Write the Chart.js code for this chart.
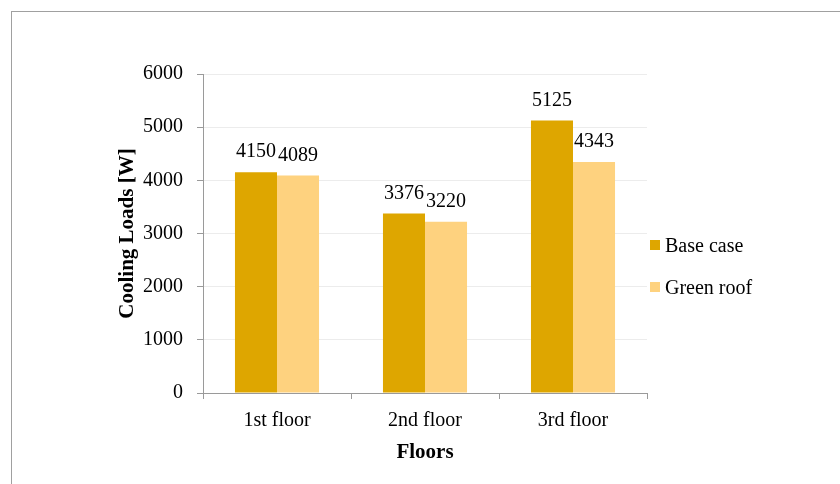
<!DOCTYPE html>
<html>
<head>
<meta charset="utf-8">
<script src="https://cdn.jsdelivr.net/npm/chart.js@4/dist/chart.umd.min.js"></script>
<style>
  body { margin: 0; background: #fff; }
  .wrap { position: relative; width: 840px; height: 484px; overflow: hidden; }
  .frame { position: absolute; left: 11px; top: 11px; width: 900px; height: 600px;
           border-top: 1px solid #a0a0a0; border-left: 1px solid #a0a0a0; }
  canvas { position: absolute; left: 0; top: 0; }
</style>
</head>
<body>
<div class="wrap">
  <div class="frame"></div>
  <canvas id="loadsChart" width="840" height="484"></canvas>
</div>
<script>
const floors = ['1st floor', '2nd floor', '3rd floor'];
const baseCase = [4150, 3376, 5125];
const greenRoof = [4089, 3220, 4343];
const yTicks = [0, 1000, 2000, 3000, 4000, 5000, 6000];

const serif = "'Liberation Serif', 'Times New Roman', serif";

// value labels above every bar
const barValues = {
  id: 'barValues',
  afterDatasetsDraw(chart) {
    const ctx = chart.ctx;
    ctx.save();
    ctx.font = '20px ' + serif;
    ctx.fillStyle = '#000';
    ctx.textAlign = 'center';
    ctx.textBaseline = 'alphabetic';
    chart.data.datasets.forEach((ds, i) => {
      chart.getDatasetMeta(i).data.forEach((bar, j) => {
        ctx.fillText(String(ds.data[j]), bar.x, bar.y - 15);
      });
    });
    ctx.restore();
  }
};

// legend on the right, square swatches
const sideLegend = {
  id: 'sideLegend',
  afterDraw(chart) {
    const ctx = chart.ctx;
    const area = chart.chartArea;
    ctx.save();
    ctx.font = '20px ' + serif;
    ctx.textBaseline = 'middle';
    ctx.textAlign = 'left';
    chart.data.datasets.forEach((ds, i) => {
      const y = area.top + 172 + i * 42;
      ctx.fillStyle = ds.backgroundColor;
      ctx.fillRect(area.right + 3, y - 6, 10, 10);
      ctx.fillStyle = '#000';
      ctx.fillText(ds.label, area.right + 18, y + 1);
    });
    ctx.restore();
  }
};

new Chart('loadsChart', {
  type: 'bar',
  data: {
    labels: floors,
    datasets: [
      {
        label: 'Base case',
        data: baseCase,
        backgroundColor: '#DEA600',
        categoryPercentage: 0.568,
        barPercentage: 1.0,
      },
      {
        label: 'Green roof',
        data: greenRoof,
        backgroundColor: '#FED27F',
        categoryPercentage: 0.568,
        barPercentage: 1.0,
      },
    ],
  },
  options: {
    responsive: false,
    devicePixelRatio: 1,
    animation: false,
    layout: { padding: { top: 74, right: 193, bottom: 0, left: 0 } },
    plugins: {
      legend: { display: false },
      tooltip: { enabled: false },
    },
    scales: {
      x: {
        afterFit: (scale) => { scale.height = 91; },
        grid: { drawOnChartArea: false, drawTicks: true, tickLength: 6, tickColor: '#9a9a9a' },
        border: { display: true, color: '#9a9a9a' },
        ticks: { color: '#000', padding: 10, font: { family: serif, size: 20 } },
        title: {
          display: true,
          text: 'Floors',
          color: '#000',
          font: { family: serif, size: 21, weight: 'bold' },
          padding: { top: 0, bottom: 19 },
        },
      },
      y: {
        min: 0,
        max: 6000,
        afterFit: (scale) => { scale.width = 203; },
        afterBuildTicks: (scale) => { scale.ticks = yTicks.map((v) => ({ value: v })); },
        grid: { color: '#ececec', tickLength: 6, tickColor: '#9a9a9a' },
        border: { display: true, color: '#9a9a9a' },
        ticks: {
          color: '#000',
          padding: 14,
          font: { family: serif, size: 20 },
          callback: (value) => String(value),
        },
        title: {
          display: true,
          text: 'Cooling Loads [W]',
          color: '#000',
          font: { family: serif, size: 21, weight: 'bold' },
          padding: { top: 115, bottom: 0 },
        },
      },
    },
  },
  plugins: [barValues, sideLegend],
});
</script>
</body>
</html>
